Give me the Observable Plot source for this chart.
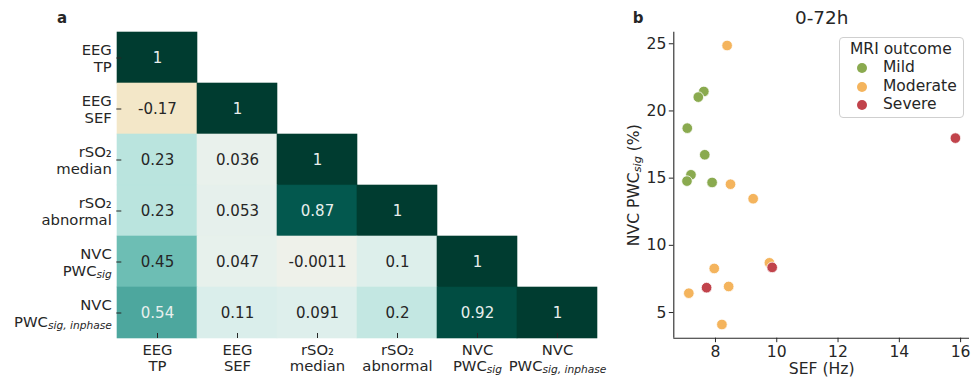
<!DOCTYPE html>
<html><head><meta charset="utf-8">
<script src="https://cdn.jsdelivr.net/npm/d3@7"></script>
<script src="https://cdn.jsdelivr.net/npm/@observablehq/plot@0.6"></script>
<style>
html,body{margin:0;padding:0;background:#fff;}
#root{position:relative;width:975px;height:378px;font-family:"DejaVu Sans",sans-serif;color:#262626;overflow:hidden;}
#root svg{position:absolute;top:0;}
.abs{position:absolute;white-space:nowrap;line-height:1;}
.c{transform:translate(-50%,-50%);}
.l{transform:translate(0,-50%);}
</style></head><body><div id="root"></div>
<script>
// ---------- data ----------
const variables = ["EEG\nTP", "EEG\nSEF", "rSO₂\nmedian", "rSO₂\nabnormal", "NVC\nPWC_{sig}", "NVC\nPWC_{sig, inphase}"];
const corrRows = [
  [1],
  [-0.17, 1],
  [0.23, 0.036, 1],
  [0.23, 0.053, 0.87, 1],
  [0.45, 0.047, -0.0011, 0.1, 1],
  [0.54, 0.11, 0.091, 0.2, 0.92, 1]
];
const outcomes = ["Mild", "Moderate", "Severe"];
const outcomeColors = ["#8aaa4f", "#f4b45d", "#c1434b"];
const mildSEF = [7.62, 7.44, 7.08, 7.65, 7.20, 7.07, 7.89];
const mildPWC = [21.45, 21.03, 18.72, 16.74, 15.25, 14.78, 14.68];
const moderateSEF = [8.38, 8.49, 9.23, 9.76, 7.96, 8.43, 7.13, 8.21];
const moderatePWC = [24.87, 14.55, 13.47, 8.70, 8.28, 6.94, 6.44, 4.11];
const severeSEF = [15.83, 9.85, 7.71];
const severePWC = [17.98, 8.36, 6.85];
const sefTicks = [8, 10, 12, 14, 16];
const pwcTicks = [5, 10, 15, 20, 25];
const sefDomain = [6.64, 16.29];
const pwcDomain = [3.09, 25.86];
const panelTitle = "0-72h";
const legendTitle = "MRI outcome";

// ---------- helpers ----------
const FONT = "DejaVu Sans, sans-serif";
const INK = "#262626";
const svgns = "http://www.w3.org/2000/svg";
function subify(root) {
  const walker = document.createTreeWalker(root, NodeFilter.SHOW_TEXT);
  const nodes = [];
  while (walker.nextNode()) if (walker.currentNode.nodeValue.includes("_")) nodes.push(walker.currentNode);
  for (const n of nodes) {
    const m = n.nodeValue.match(/^(.*?)_(?:\{([^}]*)\}|(\w+))(.*)$/);
    if (!m) continue;
    const pre = m[1], sub = m[2] !== undefined ? m[2] : m[3], post = m[4];
    const frag = document.createDocumentFragment();
    frag.append(document.createTextNode(pre));
    const t = document.createElementNS(svgns, "tspan");
    t.setAttribute("baseline-shift", "-15%");
    t.setAttribute("font-size", "0.72em");
    if (isNaN(+sub)) t.setAttribute("font-style", "italic");
    t.textContent = sub;
    frag.append(t);
    if (post) frag.append(document.createTextNode(post));
    n.parentNode.replaceChild(frag, n);
  }
}

// ---------- panel a : correlation heatmap ----------
const cells = [];
corrRows.forEach((row, i) => row.forEach((v, j) => cells.push({row: variables[i], col: variables[j], value: v})));

const heat = Plot.plot({
  width: 615, height: 378,
  marginLeft: 116.3, marginRight: 16.7, marginTop: 31.5, marginBottom: 40,
  style: {fontFamily: FONT, fontSize: "14.8px", color: INK, background: "transparent", overflow: "visible"},
  x: {type: "band", domain: variables, padding: 0},
  y: {type: "band", domain: variables, padding: 0},
  color: {type: "linear", scheme: "BrBG", domain: [-1, 1]},
  marks: [
    Plot.cell(cells, {x: "col", y: "row", fill: "value", stroke: "value", strokeWidth: 0.6, inset: 0}),
    Plot.text(cells.filter(d => d.value <= 0.5), {x: "col", y: "row", text: d => String(d.value), fill: INK, fontSize: 15}),
    Plot.text(cells.filter(d => d.value > 0.5), {x: "col", y: "row", text: d => String(d.value), fill: "#e8efed", fontSize: 15}),
    Plot.axisX({anchor: "bottom", tickSize: -5, tickPadding: 10, label: null, lineHeight: 1.1, stroke: INK}),
    Plot.axisY({anchor: "left", tickSize: -5, tickPadding: 10, label: null, lineHeight: 1.12, stroke: INK})
  ]
});

// ---------- panel b : scatter ----------
const points = [];
[[mildSEF, mildPWC], [moderateSEF, moderatePWC], [severeSEF, severePWC]].forEach(([xs, ys], k) =>
  xs.forEach((x, i) => points.push({sef: x, pwc: ys[i], outcome: outcomes[k]})));

const scat = Plot.plot({
  width: 360, height: 378,
  marginLeft: 58.3, marginRight: 6, marginTop: 31.7, marginBottom: 40.3,
  style: {fontFamily: FONT, fontSize: "15.6px", color: INK, background: "transparent", overflow: "visible"},
  x: {domain: sefDomain},
  y: {domain: pwcDomain},
  color: {domain: outcomes, range: outcomeColors},
  marks: [
    Plot.ruleX([sefDomain[0]], {stroke: INK, strokeWidth: 1.1}),
    Plot.ruleY([pwcDomain[0]], {stroke: INK, strokeWidth: 1.1}),
    Plot.axisX({ticks: sefTicks, tickSize: 4.5, tickPadding: 3, label: "SEF (Hz)", labelAnchor: "center", labelArrow: "none", labelOffset: 36, stroke: INK}),
    Plot.axisY({ticks: pwcTicks, tickSize: 4.5, tickPadding: 3, label: "NVC PWC_{sig} (%)", labelAnchor: "center", labelArrow: "none", labelOffset: 46, stroke: INK}),
    Plot.dot(points, {x: "sef", y: "pwc", fill: "outcome", r: 5.3, stroke: "white", strokeWidth: 0.8})
  ]
});

const root = document.getElementById("root");
heat.style.left = "0px";
scat.style.left = "615px";
root.append(heat, scat);
subify(heat); subify(scat);

// titles
function addDiv(text, x, y, css, cls = "c") {
  const d = document.createElement("div");
  d.className = "abs " + cls;
  d.textContent = text;
  d.style.left = x + "px"; d.style.top = y + "px";
  Object.assign(d.style, css);
  root.append(d);
  return d;
}
addDiv("a", 62, 18, {fontWeight: "bold", fontSize: "15px"});
addDiv("b", 638, 18, {fontWeight: "bold", fontSize: "15px"});
addDiv(panelTitle, 821.7, 18, {fontSize: "18.4px"});

// legend
const box = document.createElement("div");
Object.assign(box.style, {position: "absolute", left: "839px", top: "36.7px", width: "125px", height: "81px",
  boxSizing: "border-box", border: "1.3px solid #cfcfcf", borderRadius: "4px", background: "rgba(255,255,255,0.85)"});
root.append(box);
addDiv(legendTitle, 850, 50, {fontSize: "15.5px"}, "l");
outcomes.forEach((o, i) => {
  const y = 68 + i * 18.5;
  const dot = document.createElement("div");
  Object.assign(dot.style, {position: "absolute", left: (861.7 - 5) + "px", top: (y - 5) + "px", width: "10px", height: "10px",
    borderRadius: "50%", background: outcomeColors[i]});
  root.append(dot);
  addDiv(o, 883, y, {fontSize: "15.5px"}, "l");
});
</script></body></html>
